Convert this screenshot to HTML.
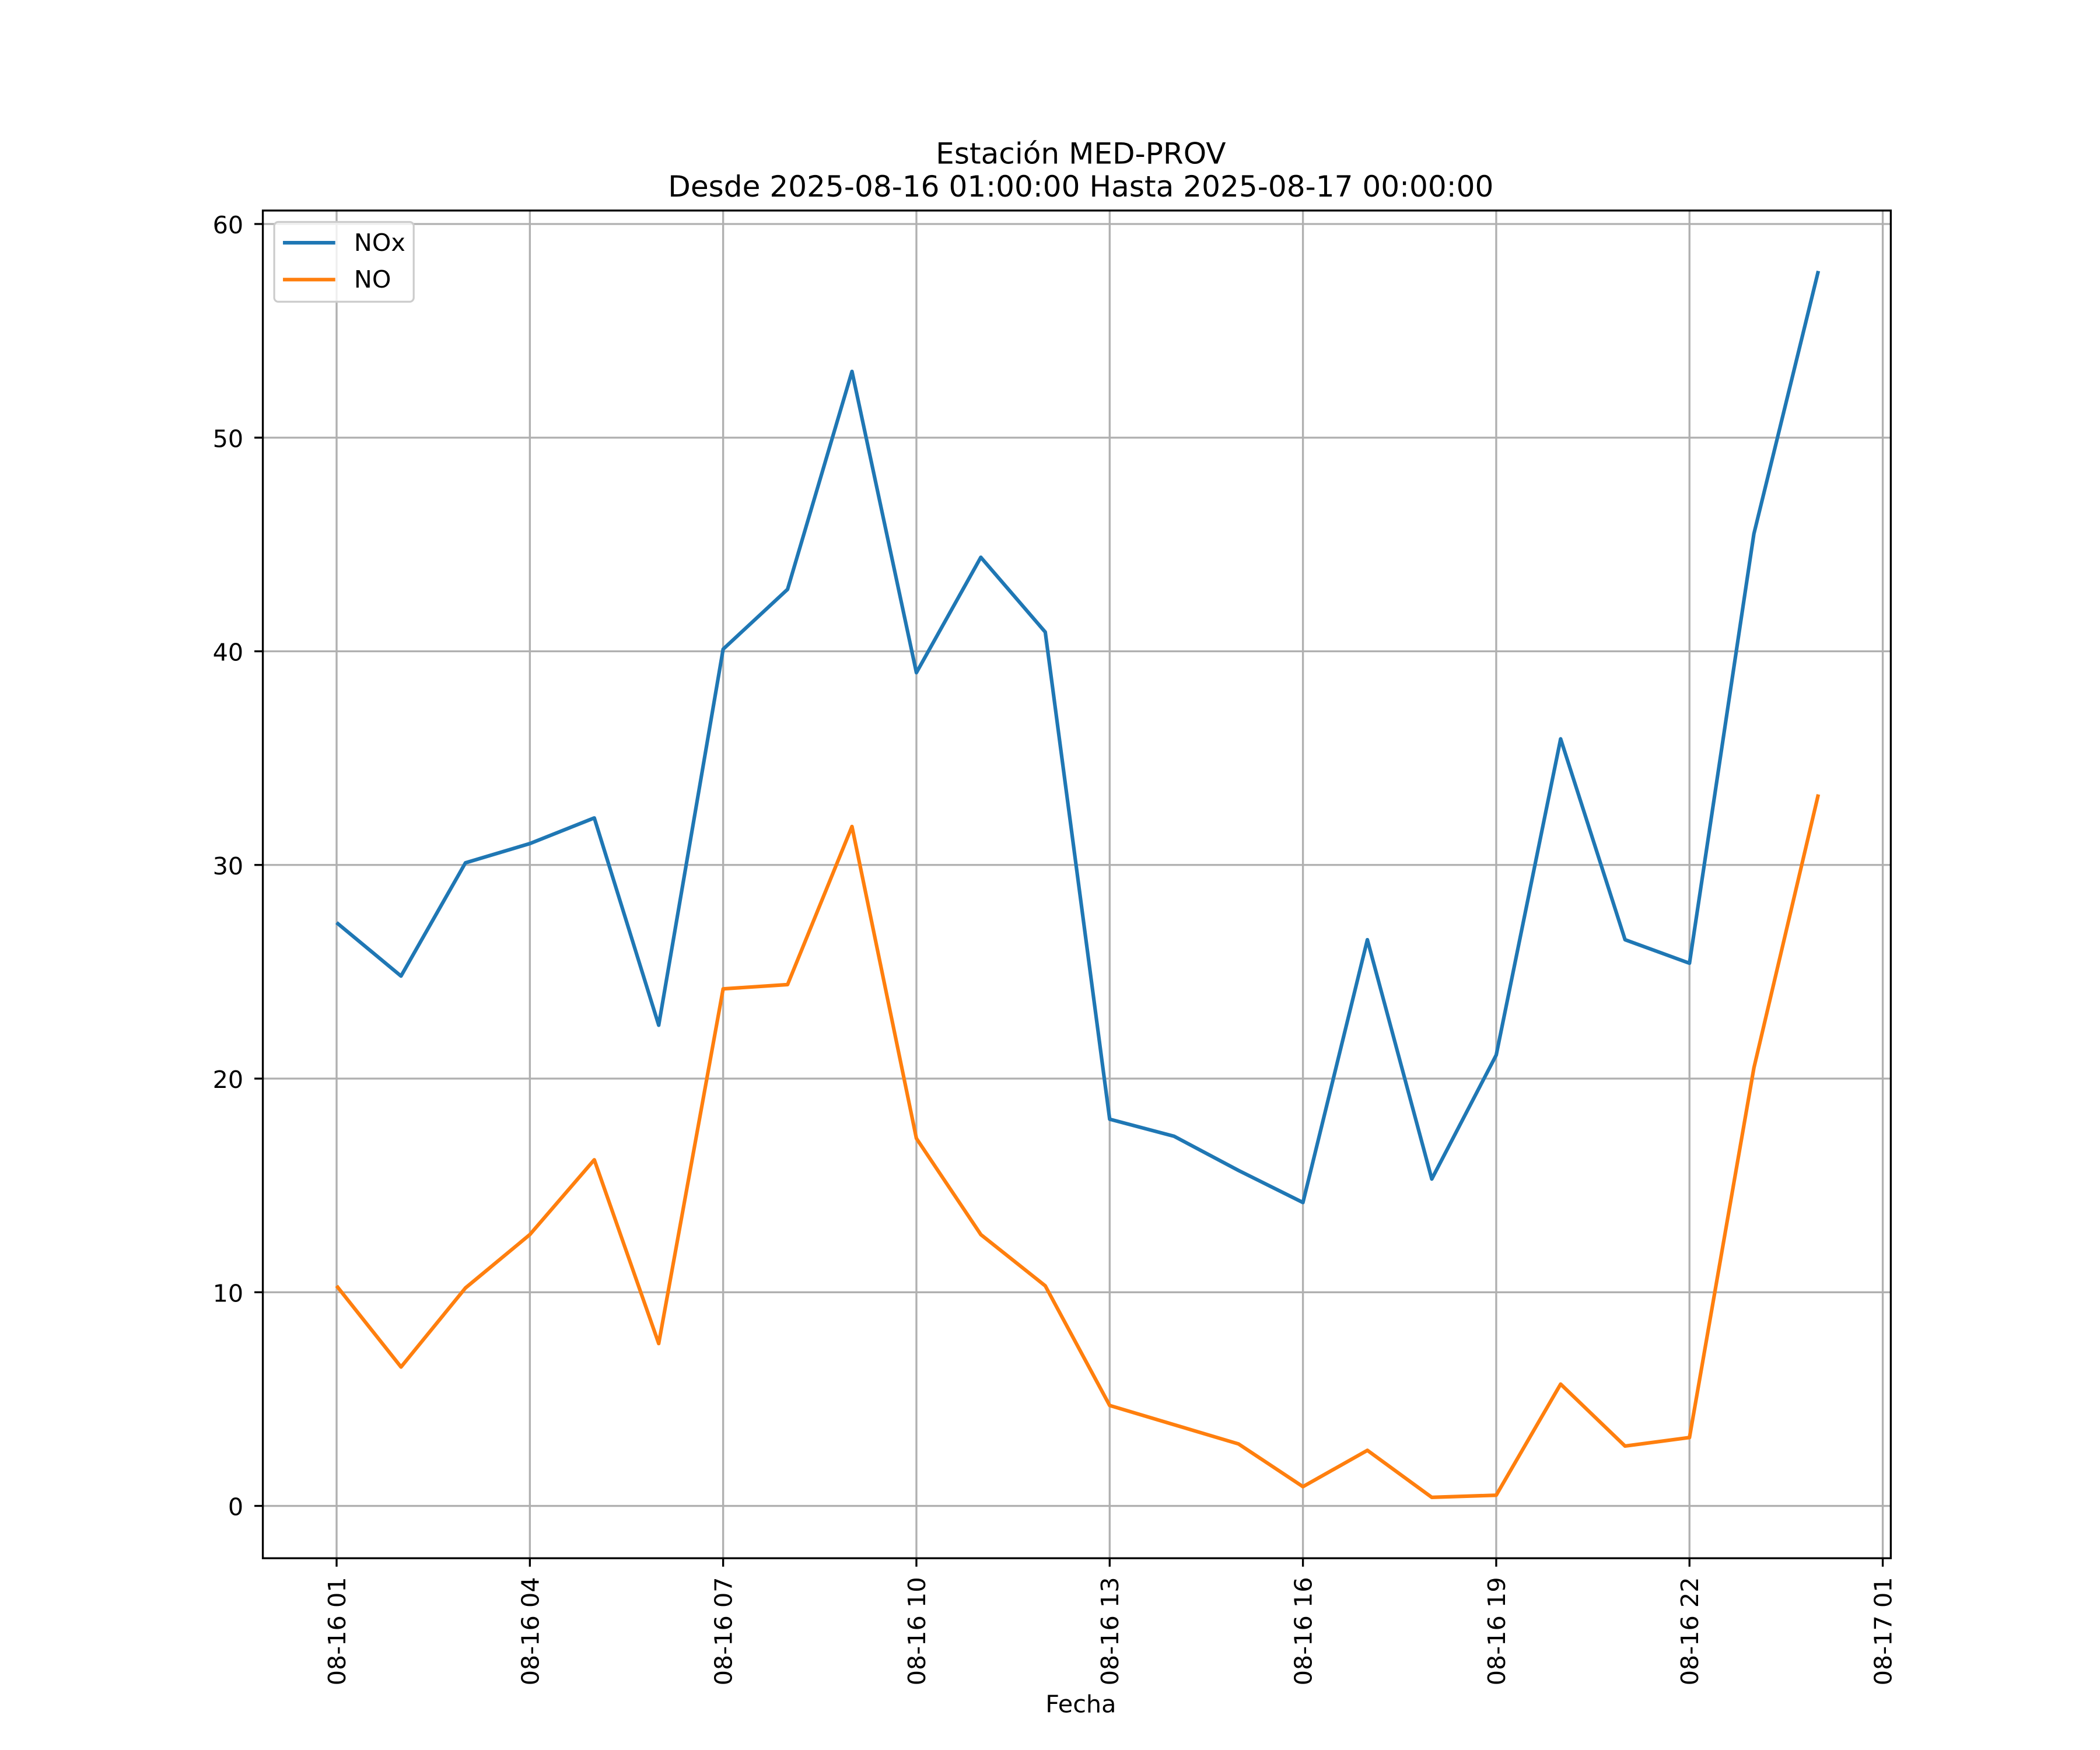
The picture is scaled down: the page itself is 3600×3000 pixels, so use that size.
<!DOCTYPE html>
<html><head><meta charset="utf-8"><style>
html,body{margin:0;padding:0;background:#fff;}
svg{display:block;font-family:"DejaVu Sans","Liberation Sans",sans-serif;}
</style></head><body>
<svg id="chart" width="3600" height="3000" viewBox="0 0 1566 1305" xmlns="http://www.w3.org/2000/svg">
<rect x="0" y="0" width="1566" height="1305" fill="#fff"/>
<g id="grid"></g>
<g id="series"></g>
<rect x="196" y="157" width="1214" height="1005" fill="none" stroke="#000" stroke-width="1.45"/>
<g id="ticks"></g>
<text x="806" y="122" font-size="21.8" text-anchor="middle">Estación MED-PROV</text>
<text x="806" y="146.5" font-size="21.8" text-anchor="middle">Desde 2025-08-16 01:00:00 Hasta 2025-08-17 00:00:00</text>
<text x="806" y="1277" font-size="18" text-anchor="middle">Fecha</text>
<g>
<rect x="204.5" y="165.5" width="104" height="59.5" rx="3" fill="#fff" fill-opacity="0.8" stroke="#ccc" stroke-width="1.4"/>
<line x1="211" y1="181" x2="250" y2="181" stroke="#1f77b4" stroke-width="2.7"/>
<text x="264" y="187" font-size="18">NOx</text>
<line x1="211" y1="208.5" x2="250" y2="208.5" stroke="#ff7f0e" stroke-width="2.7"/>
<text x="264" y="214.5" font-size="18">NO</text>
</g>
</svg>
<script>
const hours = [1,2,3,4,5,6,7,8,9,10,11,12,13,14,15,16,17,18,19,20,21,22,23,24];
const noxValues = [27.3,24.8,30.1,31.0,32.2,22.5,40.1,42.9,53.1,39.0,44.4,40.9,18.1,17.3,15.7,14.2,26.5,15.3,21.1,35.9,26.5,25.4,45.5,57.8];
const noValues = [10.3,6.5,10.2,12.7,16.2,7.6,24.2,24.4,31.8,17.2,12.7,10.3,4.7,3.8,2.9,0.9,2.6,0.4,0.5,5.7,2.8,3.2,20.5,33.3];
const yTicks = [0,10,20,30,40,50,60];
const xTickHours = [1,4,7,10,13,16,19,22,25];
const xTickLabels = ["08-16 01","08-16 04","08-16 07","08-16 10","08-16 13","08-16 16","08-16 19","08-16 22","08-17 01"];

const L=196,R=1410,T=157,B=1162;
const xMin=-0.145,xMax=25.125,yMin=-2.45,yMax=60.63;
const sx=h=>L+(h-xMin)/(xMax-xMin)*(R-L);
const sy=v=>B-(v-yMin)/(yMax-yMin)*(B-T);
const NS="http://www.w3.org/2000/svg";
const grid=document.getElementById('grid'),ticks=document.getElementById('ticks'),series=document.getElementById('series');
function mk(tag,attrs,parent){const e=document.createElementNS(NS,tag);for(const k in attrs)e.setAttribute(k,attrs[k]);parent.appendChild(e);return e;}

yTicks.forEach(v=>{
  const y=sy(v);
  const g=mk('line',{x1:L,x2:R,y1:y,y2:y,stroke:'#b0b0b0','stroke-width':1.45},grid);
  
  
  mk('line',{x1:L-6.3,x2:L,y1:y,y2:y,stroke:'#000','stroke-width':1.45},ticks);
  const t=mk('text',{x:L-14.5,y:y+7,'font-size':18,'text-anchor':'end'},ticks);
  t.textContent=v;
  
  
});
xTickHours.forEach((h,i)=>{
  const x=sx(h);
  const g=mk('line',{x1:x,x2:x,y1:T,y2:B,stroke:'#b0b0b0','stroke-width':1.45},grid);
  
  
  mk('line',{x1:x,x2:x,y1:B,y2:B+6.3,stroke:'#000','stroke-width':1.45},ticks);
  const t=mk('text',{x:0,y:0,'font-size':18,'text-anchor':'end',transform:`translate(${x+6.5},${B+14}) rotate(-90)`},ticks);
  t.textContent=xTickLabels[i];
  
  
});
function drawLine(vals,color,name){
  const p=mk('polyline',{points:vals.map((v,i)=>sx(hours[i])+','+sy(v)).join(' '),fill:'none',stroke:color,'stroke-width':2.7,'stroke-linejoin':'round'},series);
  
  
}
drawLine(noxValues,'#1f77b4','nox-line');
drawLine(noValues,'#ff7f0e','no-line');
</script>
</body></html>
